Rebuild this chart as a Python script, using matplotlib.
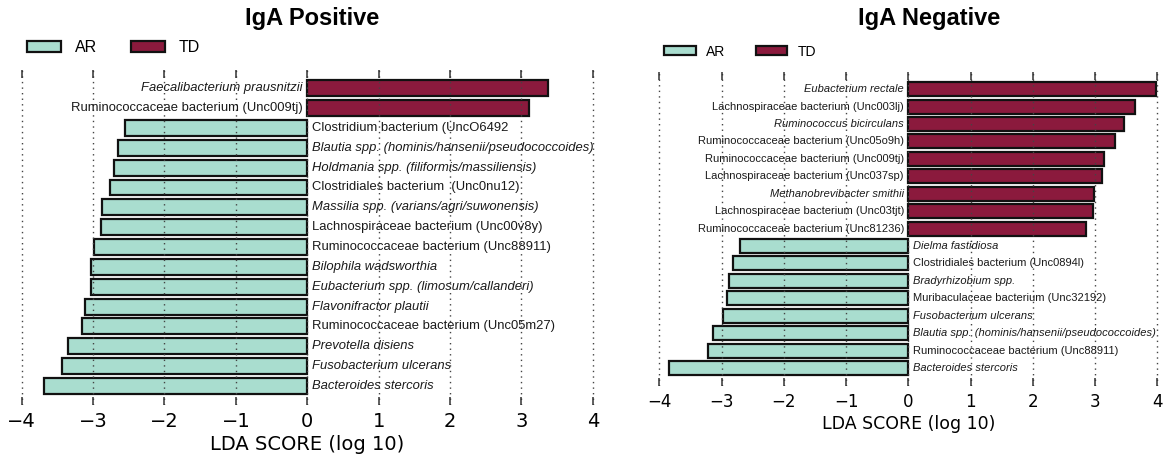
import matplotlib
matplotlib.use("Agg")
import matplotlib.pyplot as plt
from matplotlib.patches import Patch

# ---- data -------------------------------------------------------------
pos_taxa = [
    "Faecalibacterium prausnitzii",
    "Ruminococcaceae bacterium (Unc009tj)",
    "Clostridium bacterium (UncO6492",
    "Blautia spp. (hominis/hansenii/pseudococcoides)",
    "Holdmania spp. (filiformis/massiliensis)",
    "Clostridiales bacterium  (Unc0nu12)",
    "Massilia spp. (varians/agri/suwonensis)",
    "Lachnospiraceae bacterium (Unc00v8y)",
    "Ruminococcaceae bacterium (Unc88911)",
    "Bilophila wadsworthia",
    "Eubacterium spp. (limosum/callanderi)",
    "Flavonifractor plautii",
    "Ruminococcaceae bacterium (Unc05m27)",
    "Prevotella disiens",
    "Fusobacterium ulcerans",
    "Bacteroides stercoris",
]
pos_lda = [3.37, 3.10, -2.55, -2.65, -2.71, -2.76, -2.87, -2.89,
           -2.99, -3.03, -3.03, -3.11, -3.15, -3.35, -3.43, -3.69]
pos_italic = [True, False, False, True, True, False, True, False,
              False, True, True, True, False, True, True, True]

neg_taxa = [
    "Eubacterium rectale",
    "Lachnospiraceae bacterium (Unc003lj)",
    "Ruminococcus bicirculans",
    "Ruminococcaceae bacterium (Unc05o9h)",
    "Ruminococcaceae bacterium (Unc009tj)",
    "Lachnospiraceae bacterium (Unc037sp)",
    "Methanobrevibacter smithii",
    "Lachnospiraceae bacterium (Unc03tjt)",
    "Ruminococcaceae bacterium (Unc81236)",
    "Dielma fastidiosa",
    "Clostridiales bacterium (Unc0894l)",
    "Bradyrhizobium spp.",
    "Muribaculaceae bacterium (Unc32192)",
    "Fusobacterium ulcerans",
    "Blautia spp. (hominis/hansenii/pseudococcoides)",
    "Ruminococcaceae bacterium (Unc88911)",
    "Bacteroides stercoris",
]
neg_lda = [3.98, 3.64, 3.46, 3.32, 3.14, 3.11, 2.99, 2.96, 2.85,
           -2.71, -2.82, -2.88, -2.92, -2.97, -3.13, -3.22, -3.84]
neg_italic = [True, False, True, False, False, False, True, False, False,
              True, False, True, False, True, True, False, True]

groups = ["AR", "TD"]
xticks = [-4, -3, -2, -1, 0, 1, 2, 3, 4]

# ---- style ------------------------------------------------------------
C_AR = "#A9DDCF"
C_TD = "#8B1A3D"
TXT = "#1a1a1a"
SANS = ["Liberation Sans", "DejaVu Sans"]

W, H = 1167, 461
fig = plt.figure(figsize=(W / 100, H / 100), dpi=100)


def px_axes(left, top, right, bottom):
    return fig.add_axes([left / W, 1 - bottom / H, (right - left) / W, (bottom - top) / H])


def lefse_panel(ax, taxa, lda, italic, ylim, lab_size, tick_size, xlab_size, pad):
    ys = list(range(len(taxa)))
    colors = [C_TD if v > 0 else C_AR for v in lda]
    ax.barh(ys, lda, height=0.8, color=colors, edgecolor="#111111",
            linewidth=1.6, zorder=2)
    for y, name, v, it in zip(ys, taxa, lda, italic):
        if v > 0:
            ax.text(-0.07, y, name, ha="right", va="center", fontsize=lab_size,
                    style="italic" if it else "normal", color=TXT,
                    family=SANS, zorder=4)
        else:
            ax.text(0.07, y, name, ha="left", va="center", fontsize=lab_size,
                    style="italic" if it else "normal", color=TXT,
                    family=SANS, zorder=4)
    ax.set_xlim(-4.05, 4.05)
    ax.set_ylim(*ylim)
    ax.set_xticks(xticks)
    ax.set_xticklabels([f"{t}".replace("-", "\u2212") for t in xticks],
                       fontsize=tick_size, family="DejaVu Sans")
    ax.set_yticks([])
    for s in ax.spines.values():
        s.set_visible(False)
    ax.tick_params(axis="x", direction="in", top=True, bottom=True,
                   length=5.5, width=1.1, color="#333333", pad=pad)
    ax.xaxis.grid(True, linestyle=(0, (1, 3)), color="#444444", linewidth=1.0,
                  zorder=3)
    ax.set_axisbelow(False)
    ax.set_xlabel("LDA SCORE (log 10)", fontsize=xlab_size, family="DejaVu Sans",
                  labelpad=3)


# left panel: IgA positive
ax1 = px_axes(18.1, 70, 18.1 + 8.1 * 71.4, 405)
lefse_panel(ax1, pos_taxa, pos_lda, pos_italic, (15.96, -0.92), 9.4, 14, 14, 5)

# right panel: IgA negative
ax2 = px_axes(908.3 - 4.05 * 62.25, 72, 908.3 + 4.05 * 62.25, 385.7)
lefse_panel(ax2, neg_taxa, neg_lda, neg_italic, (17.01, -0.98), 8.0, 12, 12.5, 5)

fig.text(312 / W, 1 - 18 / H, "IgA Positive", ha="center", va="center",
         fontsize=17, fontweight="bold", family=SANS)
fig.text(929 / W, 1 - 18 / H, "IgA Negative", ha="center", va="center",
         fontsize=17, fontweight="bold", family=SANS)

handles = [Patch(facecolor=C_AR, edgecolor="#111111", linewidth=1.6, label=groups[0]),
           Patch(facecolor=C_TD, edgecolor="#111111", linewidth=1.6, label=groups[1])]

fig.legend(handles=handles, ncol=2, loc="center left", frameon=False,
           bbox_to_anchor=(27 / W, 1 - 47.5 / H), bbox_transform=fig.transFigure,
           borderpad=0, borderaxespad=0, handlelength=2.15,
           handleheight=0.72, handletextpad=0.85, columnspacing=2.1,
           prop={"family": SANS, "size": 11.5})
fig.legend(handles=handles, ncol=2, loc="center left", frameon=False,
           bbox_to_anchor=(664 / W, 1 - 51.5 / H), bbox_transform=fig.transFigure,
           borderpad=0, borderaxespad=0, handlelength=2.27,
           handleheight=0.68, handletextpad=0.76, columnspacing=2.2,
           prop={"family": SANS, "size": 10})

fig.savefig("out.png", dpi=100)
